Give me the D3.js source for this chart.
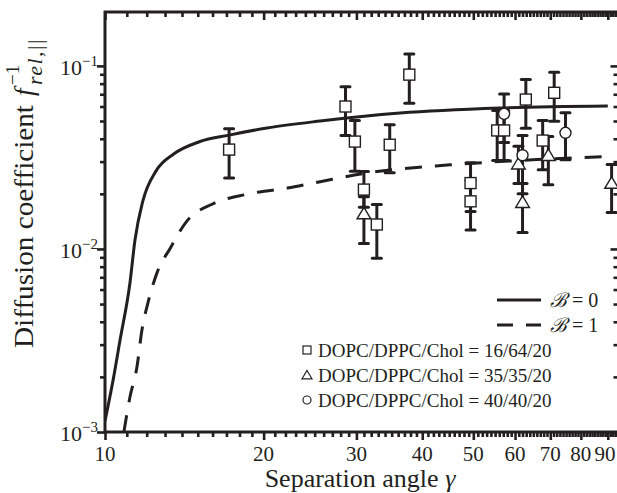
<!DOCTYPE html>
<html>
<head>
<meta charset="utf-8">
<script src="https://cdn.jsdelivr.net/npm/d3@7"></script>
<style>
  html, body { margin: 0; padding: 0; background: #fff; }
  svg { display: block; }
  text { font-family: "Liberation Serif", "Times New Roman", "DejaVu Serif", serif; fill: #231f20; }
</style>
</head>
<body>
<svg id="chart" width="617" height="493"></svg>
<script>
// ---- axis ticks ----
const xMajorTicks = [10, 20, 30, 40, 50, 60, 70, 80, 90];
const xTickLabels = ["10", "20", "30", "40", "50", "60", "70", "80", "90"];
const yMajorTicks = [1e-3, 1e-2, 1e-1];
const yTickExponents = ["−3", "−2", "−1"];

// ---- model curves: inverse relative friction vs separation angle ----
const curveB0Gamma = [10.0, 10.36, 10.68, 11.15, 11.4, 11.8, 12.5, 13.5, 15.1, 17.3, 20.3, 25.6, 36.3, 56.1, 90.0];
const curveB0Value = [0.00115, 0.00192, 0.00318, 0.0065, 0.0112, 0.0183, 0.0267, 0.033, 0.0385, 0.042, 0.0458, 0.050, 0.0553, 0.0589, 0.0604];
const curveB1Gamma = [10.86, 11.15, 11.5, 11.75, 12.07, 12.55, 13.3, 14.3, 16.0, 18.6, 22.2, 25.6, 31.4, 45.2, 64.8, 90.0];
const curveB1Value = [0.001, 0.00155, 0.00227, 0.0036, 0.0051, 0.0074, 0.0101, 0.0142, 0.0176, 0.0199, 0.0215, 0.0233, 0.026, 0.0288, 0.0307, 0.032];

// ---- measurements: DOPC/DPPC/Chol = 16/64/20 (squares) ----
const sqGamma = [17.2, 28.6, 29.8, 31.0, 32.8, 34.7, 37.8, 49.4, 49.4, 55.5, 57.2, 62.9, 67.7, 71.2];
const sqValue = [0.0349, 0.060, 0.0386, 0.0211, 0.0136, 0.0371, 0.0896, 0.0229, 0.0182, 0.0444, 0.0444, 0.0655, 0.0391, 0.0713];
const sqLow   = [0.0244, 0.0417, 0.0266, 0.0169, 0.0089, 0.0261, 0.0625, 0.0160, 0.0127, 0.0304, 0.0304, 0.0457, 0.0271, 0.0499];
const sqHigh  = [0.0453, 0.077, 0.0503, 0.0265, 0.0175, 0.0477, 0.1162, 0.0296, 0.0237, 0.0570, 0.0570, 0.0842, 0.0503, 0.0923];

// ---- measurements: DOPC/DPPC/Chol = 35/35/20 (triangles) ----
const triGamma = [31.0, 60.9, 62.0, 69.4, 91.5];
const triValue = [0.0156, 0.0292, 0.018, 0.0325, 0.0229];
const triLow   = [0.0107, 0.0228, 0.0123, 0.0224, 0.0158];
const triHigh  = [0.0193, 0.0364, 0.0228, 0.0411, 0.0289];

// ---- measurements: DOPC/DPPC/Chol = 40/40/20 (circles) ----
const cirGamma = [57.2, 62.0, 74.8];
const cirValue = [0.0547, 0.0325, 0.0431];
const cirLow   = [0.0382, 0.0200, 0.0307];
const cirHigh  = [0.0703, 0.0417, 0.0554];

const seriesNames = ["DOPC/DPPC/Chol = 16/64/20", "DOPC/DPPC/Chol = 35/35/20", "DOPC/DPPC/Chol = 40/40/20"];
const curveNames = ["= 0", "= 1"];

(function draw() {
  // ---- layout ----
  const W = 617, H = 493;
  const pLeft = 105, pRight = 618.5, pTop = 12, pBottom = 432;
  const ink = "#231f20";

  const svg = d3.select("#chart");
  svg.append("rect").attr("width", W).attr("height", H).attr("fill", "#fff");

  const x = d3.scaleLog().domain([10, 94.3]).range([pLeft, pRight]);
  const y = d3.scaleLog().domain([0.001, 0.197]).range([pBottom, pTop]);

  const xMinor = d3.range(11, 95).filter(d => d % 10 !== 0);
  const yMinor = [];
  yMajorTicks.forEach(dec => { for (let k = 2; k <= 9; k++) { const v = dec * k; if (v <= 0.197) yMinor.push(v); } });

  svg.append("defs").append("clipPath").attr("id", "plotClip")
    .append("rect").attr("x", pLeft).attr("y", pTop).attr("width", pRight - pLeft).attr("height", pBottom - pTop);

  function styleAxis(g) {
    g.select(".domain").remove();
    g.selectAll(".tick line").attr("stroke", ink).attr("stroke-width", 2.6);
  }

  // minor and major ticks on all four sides
  const axes = svg.append("g");
  const addAxis = (axisFn, tr, vals, size) => axes.append("g").attr("transform", tr)
    .call(axisFn.tickValues(vals).tickSize(size).tickFormat(""))
    .call(styleAxis);
  addAxis(d3.axisBottom(x), `translate(0,${pBottom})`, xMinor, 5);
  addAxis(d3.axisBottom(x), `translate(0,${pBottom})`, xMajorTicks, 8);
  addAxis(d3.axisTop(x), `translate(0,${pTop})`, xMinor, -5);
  addAxis(d3.axisTop(x), `translate(0,${pTop})`, xMajorTicks, -8);
  addAxis(d3.axisLeft(y), `translate(${pLeft},0)`, yMinor, 5);
  addAxis(d3.axisLeft(y), `translate(${pLeft},0)`, yMajorTicks, 8);
  addAxis(d3.axisRight(y), `translate(${pRight},0)`, yMinor, -5);
  addAxis(d3.axisRight(y), `translate(${pRight},0)`, yMajorTicks, -8);

  // frame
  svg.append("rect")
    .attr("x", pLeft).attr("y", pTop).attr("width", pRight - pLeft).attr("height", pBottom - pTop)
    .attr("fill", "none").attr("stroke", ink).attr("stroke-width", 3);

  // x tick labels (the last one is nudged in so it stays on the page)
  svg.append("g").selectAll("text").data(xMajorTicks).join("text")
    .attr("x", d => Math.min(x(d), 605)).attr("y", pBottom + 29)
    .attr("text-anchor", "middle").attr("font-size", 21)
    .text((d, i) => xTickLabels[i]);

  // y tick labels: 10 with superscript exponent
  const yl = svg.append("g").selectAll("text").data(yMajorTicks).join("text")
    .attr("x", pLeft - 7).attr("y", d => y(d) + 9)
    .attr("text-anchor", "end").attr("font-size", 22);
  yl.append("tspan").text("10");
  yl.append("tspan").attr("font-size", 15).attr("dy", -9).text((d, i) => yTickExponents[i]);

  // model curves
  const lineGen = d3.line().x(d => x(d[0])).y(d => y(d[1])).curve(d3.curveMonotoneX);
  const curves = svg.append("g").attr("clip-path", "url(#plotClip)");
  curves.append("path")
    .datum(curveB0Gamma.map((g, i) => [g, curveB0Value[i]]))
    .attr("d", lineGen).attr("fill", "none").attr("stroke", ink).attr("stroke-width", 3);
  curves.append("path")
    .datum(curveB1Gamma.map((g, i) => [g, curveB1Value[i]]))
    .attr("d", lineGen).attr("fill", "none").attr("stroke", ink).attr("stroke-width", 3)
    .attr("stroke-dasharray", "17,13");

  // measurement sets
  const sets = [
    { shape: "square", g: sqGamma, v: sqValue, lo: sqLow, hi: sqHigh },
    { shape: "triangle", g: triGamma, v: triValue, lo: triLow, hi: triHigh },
    { shape: "circle", g: cirGamma, v: cirValue, lo: cirLow, hi: cirHigh }
  ];

  const errLayer = svg.append("g");
  const markLayer = svg.append("g");

  function drawMarker(sel, shape, cx, cy, s) {
    if (shape === "square") {
      sel.append("rect").attr("x", cx - s / 2).attr("y", cy - s / 2).attr("width", s).attr("height", s);
    } else if (shape === "triangle") {
      const h = s * 0.95, w = s * 1.25;
      sel.append("path").attr("d", `M${cx},${cy - h * 0.6}L${cx + w / 2},${cy + h * 0.5}L${cx - w / 2},${cy + h * 0.5}Z`);
    } else {
      sel.append("circle").attr("cx", cx).attr("cy", cy).attr("r", s / 2);
    }
  }

  sets.forEach(set => {
    set.g.forEach((g, i) => {
      const cx = x(g);
      const eg = errLayer.append("g").attr("stroke", ink).attr("stroke-width", 3);
      eg.append("line").attr("x1", cx).attr("x2", cx).attr("y1", y(set.hi[i])).attr("y2", y(set.lo[i]));
      [set.hi[i], set.lo[i]].forEach(v => {
        eg.append("line").attr("x1", cx - 4.5).attr("x2", cx + 4.5).attr("y1", y(v)).attr("y2", y(v))
          .attr("stroke-linecap", "round");
      });
      const mg = markLayer.append("g").attr("fill", "#fff").attr("stroke", ink).attr("stroke-width", 1.4);
      drawMarker(mg, set.shape, cx, y(set.v[i]), 11);
    });
  });

  // legend: curves
  const leg = svg.append("g");
  [0, 1].forEach(i => {
    const ly = 300 + i * 25;
    leg.append("line").attr("x1", 497).attr("x2", 541).attr("y1", ly).attr("y2", ly)
      .attr("stroke", ink).attr("stroke-width", 3)
      .attr("stroke-dasharray", i === 1 ? "16,13" : null);
    const t = leg.append("text").attr("x", 550).attr("y", ly + 7).attr("font-size", 20);
    t.append("tspan").attr("font-style", "italic").text("ℬ");
    t.append("tspan").text(" " + curveNames[i]);
  });

  // legend: measurement sets
  seriesNames.forEach((name, i) => {
    const ly = 350 + i * 25;
    const mg = leg.append("g").attr("fill", "#fff").attr("stroke", ink).attr("stroke-width", 1.2);
    drawMarker(mg, sets[i].shape, 307, ly, 8);
    leg.append("text").attr("x", 318).attr("y", ly + 7).attr("font-size", 19).text(name);
  });

  // axis titles
  const xt = svg.append("text").attr("x", 360).attr("y", 487).attr("text-anchor", "middle").attr("font-size", 26);
  xt.append("tspan").text("Separation angle ");
  xt.append("tspan").attr("font-style", "italic").text("γ");

  // y title, written upward: main words, italic f, stacked sub/superscript
  const yg = svg.append("g").attr("transform", "rotate(-90)");
  yg.append("text").attr("x", -348).attr("y", 33).attr("font-size", 27)
    .attr("textLength", 243).attr("lengthAdjust", "spacingAndGlyphs").text("Diffusion coefficient");
  yg.append("text").attr("x", -96).attr("y", 33).attr("font-size", 27).attr("font-style", "italic").text("f");
  const sub = yg.append("text").attr("x", -85).attr("y", 42).attr("font-size", 22).attr("letter-spacing", 1.5);
  sub.append("tspan").attr("font-style", "italic").text("rel");
  sub.append("tspan").text(",||");
  yg.append("text").attr("x", -85).attr("y", 19).attr("font-size", 19).text("−1");
})();
</script>
</body>
</html>
